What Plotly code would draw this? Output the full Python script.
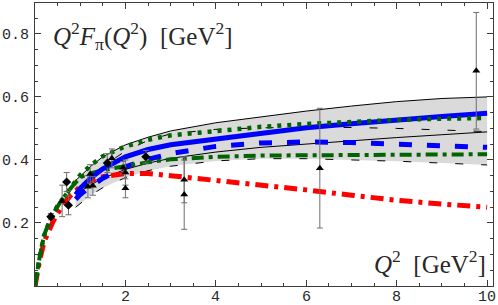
import plotly.graph_objects as go

# ---------------- data ----------------
q_band = [0.9, 1.0, 1.25, 1.5, 2.0, 2.5, 3.0, 4.0, 5.0, 6.0, 7.0, 8.0, 9.0, 10.0]
band_solid_upper = [0.335, 0.348, 0.382, 0.41, 0.448, 0.472, 0.492, 0.518, 0.537, 0.555, 0.571, 0.585, 0.595, 0.600]
band_solid_lower = [0.288, 0.300, 0.322, 0.342, 0.370, 0.390, 0.405, 0.425, 0.440, 0.451, 0.461, 0.471, 0.480, 0.489]
band_dash_upper = [0.300, 0.315, 0.350, 0.380, 0.428, 0.462, 0.483, 0.497, 0.502, 0.503, 0.503, 0.500, 0.495, 0.490]
band_dash_lower = [0.250, 0.262, 0.290, 0.312, 0.344, 0.366, 0.380, 0.397, 0.404, 0.404, 0.401, 0.396, 0.390, 0.384]

q_blue = [0.9, 1.0, 1.25, 1.5, 2.0, 2.5, 3.0, 4.0, 5.0, 6.0, 7.0, 8.0, 9.0, 10.0]
blue_solid = [0.290, 0.310, 0.345, 0.372, 0.410, 0.433, 0.448, 0.466, 0.482, 0.502, 0.515, 0.528, 0.538, 0.548]
blue_dashed = [0.275, 0.290, 0.318, 0.342, 0.378, 0.402, 0.420, 0.443, 0.454, 0.457, 0.455, 0.450, 0.445, 0.440]

q_red = [0, 0.05, 0.1, 0.2, 0.3, 0.4, 0.5, 0.6, 0.8, 1.0, 1.25, 1.5, 2.0, 2.5, 3.0, 4.0, 5.0, 6.0, 7.0, 8.0, 9.0, 10.0]
red_dashdot = [0, 0.050, 0.080, 0.140, 0.175, 0.205, 0.230, 0.253, 0.290, 0.315, 0.335, 0.347, 0.357, 0.357, 0.350, 0.335, 0.322, 0.305, 0.288, 0.272, 0.260, 0.250]

q_green = [0, 0.05, 0.1, 0.2, 0.3, 0.4, 0.5, 0.6, 0.8, 1.0, 1.25, 1.5, 2.0, 2.5, 3.0, 4.0, 5.0, 6.0, 7.0, 8.0, 9.0, 10.0]
green_dotted = [0, 0.055, 0.090, 0.160, 0.200, 0.230, 0.255, 0.275, 0.312, 0.352, 0.385, 0.412, 0.443, 0.464, 0.478, 0.492, 0.505, 0.514, 0.521, 0.527, 0.531, 0.533]
green_dashdot = [0, 0.055, 0.090, 0.160, 0.200, 0.230, 0.255, 0.275, 0.312, 0.345, 0.358, 0.368, 0.380, 0.393, 0.402, 0.410, 0.414, 0.415, 0.416, 0.417, 0.417, 0.418]

# experimental points
q_diam = [0.35, 0.70, 0.74, 1.60, 2.45]
f_diam = [0.220, 0.330, 0.256, 0.390, 0.410]
e_diam = [0.010, 0.030, 0.030, 0.030, 0.020]

q_tri = [0.60, 1.17, 1.22, 1.28, 1.70, 1.95, 2.00, 2.00, 3.30, 3.30, 6.30, 9.76]
f_tri = [0.270, 0.315, 0.355, 0.318, 0.405, 0.375, 0.360, 0.310, 0.337, 0.290, 0.374, 0.683]
e_tri = [0.050, 0.035, 0.030, 0.030, 0.030, 0.020, 0.040, 0.030, 0.073, 0.110, 0.190, 0.185]

x_ticks = [2, 4, 6, 8, 10]
y_ticks = [0.2, 0.4, 0.6, 0.8]

# ---------------- figure ----------------
fig = go.Figure()

# grey band (union of both bands)
fig.add_trace(go.Scatter(x=q_band, y=band_dash_lower, mode="lines",
                         line=dict(color="rgba(0,0,0,0)", width=0), showlegend=False, hoverinfo="skip"))
fig.add_trace(go.Scatter(x=q_band, y=band_solid_upper, mode="lines", fill="tonexty",
                         fillcolor="rgb(218,218,218)", line=dict(color="rgba(0,0,0,0)", width=0),
                         showlegend=False, hoverinfo="skip"))

for ys in (band_solid_upper, band_solid_lower):
    fig.add_trace(go.Scatter(x=q_band, y=ys, mode="lines", line=dict(color="black", width=1),
                             showlegend=False))
for ys in (band_dash_upper, band_dash_lower):
    fig.add_trace(go.Scatter(x=q_band, y=ys, mode="lines",
                             line=dict(color="black", width=1, dash="8px,18px"), showlegend=False))

# model curves
fig.add_trace(go.Scatter(x=q_red, y=red_dashdot, mode="lines",
                         line=dict(color="rgb(255,0,0)", width=5, dash="13px,6px,4px,6px"), showlegend=False))
fig.add_trace(go.Scatter(x=q_blue, y=blue_dashed, mode="lines",
                         line=dict(color="rgb(0,0,255)", width=5, dash="13px,15px"), showlegend=False))
fig.add_trace(go.Scatter(x=q_green, y=green_dashdot, mode="lines",
                         line=dict(color="rgb(0,100,0)", width=4, dash="12px,5px,4px,5px"), showlegend=False))
fig.add_trace(go.Scatter(x=q_blue, y=blue_solid, mode="lines",
                         line=dict(color="rgb(0,0,255)", width=5), showlegend=False))
fig.add_trace(go.Scatter(x=q_green, y=green_dotted, mode="lines",
                         line=dict(color="rgb(0,100,0)", width=4.5, dash="4px,6px"), showlegend=False))

# data points
err_style = dict(type="data", visible=True, color="rgb(110,110,110)", thickness=1, width=3)
fig.add_trace(go.Scatter(x=q_diam, y=f_diam, mode="markers",
                         marker=dict(symbol="diamond", size=7, color="black"),
                         error_y=dict(array=e_diam, **err_style), showlegend=False))
fig.add_trace(go.Scatter(x=q_tri, y=f_tri, mode="markers",
                         marker=dict(symbol="triangle-up", size=7, color="black"),
                         error_y=dict(array=e_tri, **err_style), showlegend=False))

tick_font = dict(family="Liberation Mono", size=15, color="rgb(40,40,40)")
axis_common = dict(showline=True, linecolor="rgb(60,60,60)", linewidth=1.2, mirror="ticks",
                   ticks="inside", ticklen=6, tickcolor="rgb(60,60,60)", showgrid=False, zeroline=False)

fig.update_xaxes(range=[0, 10.13], tickvals=x_ticks, showticklabels=False,
                 minor=dict(dtick=0.5, tick0=0, ticks="inside", ticklen=3, tickcolor="rgb(60,60,60)"),
                 **axis_common)
fig.update_yaxes(range=[0, 0.898], tickvals=y_ticks, ticktext=[f"{v:.1f}" for v in y_ticks],
                 minor=dict(dtick=0.05, tick0=0, ticks="inside", ticklen=3, tickcolor="rgb(60,60,60)"),
                 ticklabelstandoff=2, tickfont=tick_font, **axis_common)

# x tick labels placed just under the frame
for v in x_ticks:
    fig.add_annotation(xref="x", yref="paper", x=v, y=0, yshift=-11, xanchor="center", yanchor="middle",
                       text=str(v), showarrow=False, font=tick_font)

fig.add_annotation(xref="paper", yref="paper", x=0.035, y=0.885, xanchor="left", yanchor="middle",
                   text="<i>Q</i><sup>2</sup><i>F</i><sub>π</sub>(<i>Q</i><sup>2</sup>)  [GeV<sup>2</sup>]",
                   showarrow=False, font=dict(family="Liberation Serif", size=25, color="rgb(40,40,40)"))
fig.add_annotation(xref="paper", yref="paper", x=0.988, y=0.085, xanchor="right", yanchor="middle",
                   text="<i>Q</i><sup>2</sup>  [GeV<sup>2</sup>]",
                   showarrow=False, font=dict(family="Liberation Serif", size=25, color="rgb(40,40,40)"))

fig.update_layout(width=498, height=305, margin=dict(l=35, r=5, t=3, b=19),
                  plot_bgcolor="white", paper_bgcolor="white", showlegend=False)

fig.write_html("out.html", config={"displayModeBar": False},
               post_script="document.body.style.margin='0';document.body.style.overflow='hidden';")
